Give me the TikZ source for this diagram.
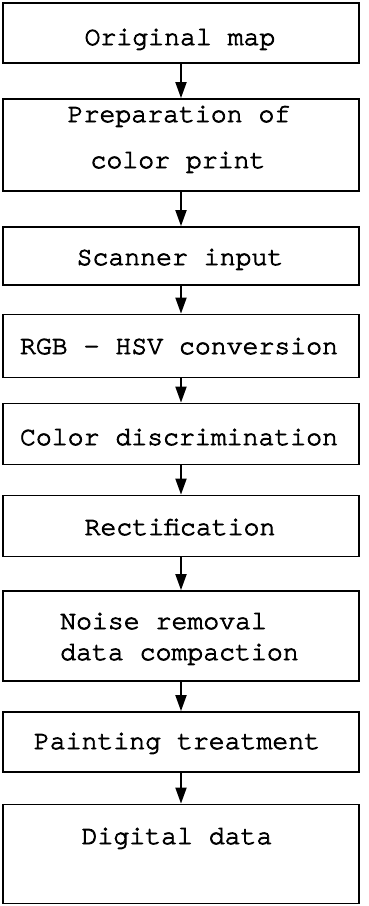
\documentclass[tikz,border=0pt]{standalone}
\usepackage{fontspec}
\newfontfamily\cur[FakeBold=3]{texgyrecursor-regular.otf}
\usetikzlibrary{arrows.meta}
\begin{document}
\begin{tikzpicture}[x=1pt,y=-1pt,
  box/.style={draw, line width=1.8pt, inner sep=0pt, minimum width=356pt},
  lbl/.style={font=\cur\fontsize{26.5}{30}\selectfont, inner sep=0pt, anchor=base},
  lblw/.style={lbl, anchor=base west},
  arr/.style={line width=1.9pt, -{Triangle[length=16pt,width=11pt]}}]
\useasboundingbox (0,0) rectangle (368,906);
% boxes
\node[box, minimum height=60pt] (b1) at (181,33) {};
\node[box, minimum height=92pt] (b2) at (181,145) {};
\node[box, minimum height=58pt] (b3) at (181,256) {};
\node[box, minimum height=63pt] (b4) at (181,346) {};
\node[box, minimum height=61pt] (b5) at (181,434) {};
\node[box, minimum height=61pt] (b6) at (181,526) {};
\node[box, minimum height=90pt] (b7) at (181,636) {};
\node[box, minimum height=60pt] (b8) at (181,742) {};
\node[box, minimum height=99pt] (b9) at (181,854) {};
% texts
\node[lbl] (t1) at (180,45) {Original map};
\node[lbl] (t2a) at (179,122) {Preparation of};
\node[lbl] (t2b) at (178,168) {color print};
\node[lbl] (t3) at (180,265) {Scanner input};
\node[lbl] (t4) at (179,354) {RGB - HSV conversion};
\node[lbl] (t5) at (179,445) {Color discrimination};
\node[lbl] (t6) at (180,535) {Rectification};
\node[lblw] (t7a) at (60,629) {Noise removal};
\node[lblw] (t7b) at (60,660) {data compaction};
\node[lbl] (t8) at (177,749) {Painting treatment};
\node[lbl] (t9) at (177,844) {Digital data};
% arrows
\foreach \a/\b in {b1/b2,b2/b3,b3/b4,b4/b5,b5/b6,b6/b7,b7/b8,b8/b9}
  \draw[arr] (\a.south) -- (\b.north);
\end{tikzpicture}
\end{document}
